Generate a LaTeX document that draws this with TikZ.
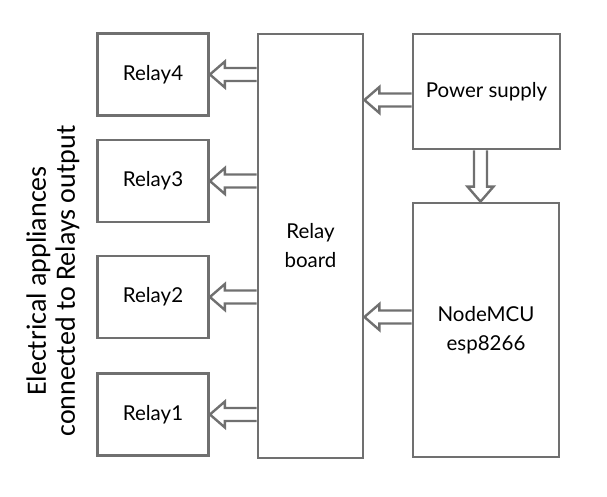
\documentclass[tikz,border=0pt]{standalone}
\usepackage{fontspec}
\setmainfont{Lato}
\newfontfamily\sidefont{Carlito}
\usetikzlibrary{calc}
\definecolor{linegray}{RGB}{112,112,112}
\tikzset{
  blk/.style={draw=linegray, line width=2.8pt, align=center, inner sep=0pt,
    font=\fontsize{20.5}{29}\selectfont},
  relaybox/.style={blk, minimum width=111pt, minimum height=82pt},
  pipe/.style={draw=linegray, line width=2.4pt, line join=miter}
}
% hollow block arrows, shaft from #1 to the tip at #2
\newcommand{\leftpipe}[2]{%
  \draw[pipe] let \p1=(#1), \p2=(#2) in
    (\x1,\y1+6.5pt) -- (\x2+15pt,\y1+6.5pt) -- (\x2+15pt,\y1+13pt) -- (\x2,\y1)
    -- (\x2+15pt,\y1-13pt) -- (\x2+15pt,\y1-6.5pt) -- (\x1,\y1-6.5pt);}
\newcommand{\downpipe}[2]{%
  \draw[pipe] let \p1=(#1), \p2=(#2) in
    (\x1-6.5pt,\y1) -- (\x1-6.5pt,\y2+15pt) -- (\x1-13pt,\y2+15pt) -- (\x1,\y2)
    -- (\x1+13pt,\y2+15pt) -- (\x1+6.5pt,\y2+15pt) -- (\x1+6.5pt,\y1);}
\begin{document}
\begin{tikzpicture}[x=1pt,y=-1pt]
\useasboundingbox (0,0) rectangle (607,497);
% relays
\node[relaybox] (r4) at (153,74.5) {Relay4};
\node[relaybox] (r3) at (153,181) {Relay3};
\node[relaybox] (r2) at (153,297) {Relay2};
\node[relaybox] (r1) at (153,414.5) {Relay1};
% board, supply, controller
\node[blk, minimum width=105pt, minimum height=424pt] (board) at (310.5,246) {Relay\\board};
\node[blk, minimum width=147pt, minimum height=115pt] (ps) at (486.5,91.5) {Power supply};
\node[blk, minimum width=146pt, minimum height=254pt] (mcu) at (486,330) {NodeMCU\\esp8266};
\node[rotate=90, align=center, font=\sidefont\fontsize{28}{29}\selectfont] (loads) at (53,281)
  {Electrical appliances\\connected to Relays output};
\coordinate (psout) at ([yshift=-8.5pt]ps.west);
\coordinate (mcuout) at ([yshift=13pt]mcu.west);
\coordinate (psdown) at ([xshift=-6pt]ps.south);
\leftpipe{board.west |- r4.east}{r4.east}
\leftpipe{board.west |- r3.east}{r3.east}
\leftpipe{board.west |- r2.east}{r2.east}
\leftpipe{board.west |- r1.east}{r1.east}
\leftpipe{psout}{board.east |- psout}
\leftpipe{mcuout}{board.east |- mcuout}
\downpipe{psdown}{mcu.north -| psdown}
\end{tikzpicture}
\end{document}
